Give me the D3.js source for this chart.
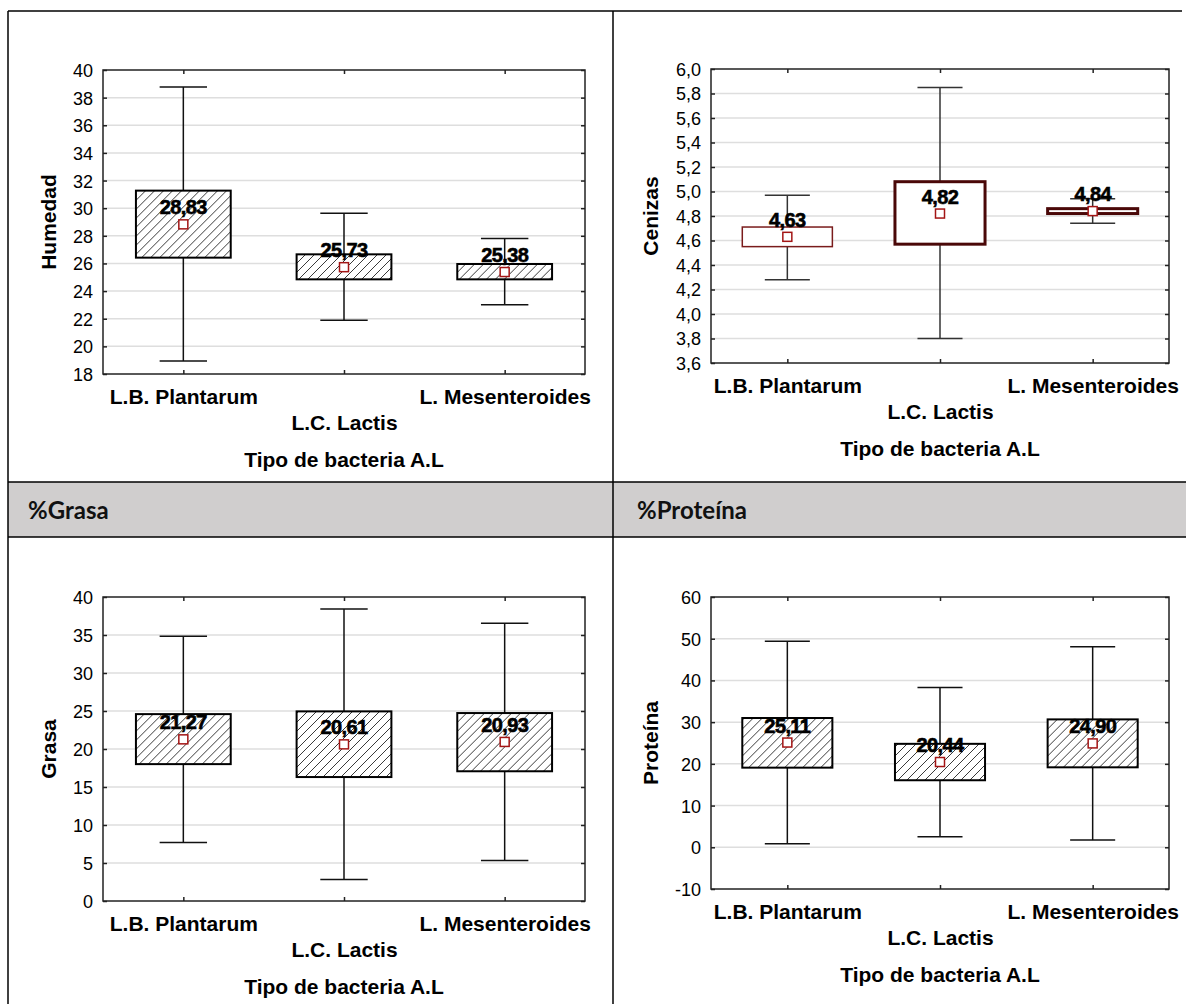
<!DOCTYPE html>
<html>
<head>
<meta charset="utf-8">
<script src="https://cdn.jsdelivr.net/npm/d3@7"></script>
<style>
  html, body { margin: 0; padding: 0; background: #fff; }
  svg { display: block; }
</style>
</head>
<body>
<svg id="chart" width="1186" height="1004"></svg>
<script>
// Bacteria types on the x axis
const categories = ["L.B. Plantarum", "L.C. Lactis", "L. Mesenteroides"];

// Humedad: mean, box (low/high) and whisker (low/high) per bacteria
const humedadMean = [28.83, 25.73, 25.38];
const humedadBoxLow = [26.42, 24.85, 24.85];
const humedadBoxHigh = [31.27, 26.66, 25.96];
const humedadWhiskerLow = [18.94, 21.89, 23.02];
const humedadWhiskerHigh = [38.77, 29.63, 27.80];
const humedadTicks = [18, 20, 22, 24, 26, 28, 30, 32, 34, 36, 38, 40];

// Cenizas
const cenizasMean = [4.63, 4.82, 4.84];
const cenizasBoxLow = [4.55, 4.57, 4.82];
const cenizasBoxHigh = [4.71, 5.08, 4.86];
const cenizasWhiskerLow = [4.28, 3.80, 4.74];
const cenizasWhiskerHigh = [4.97, 5.85, 4.94];
const cenizasTicks = [3.6, 3.8, 4.0, 4.2, 4.4, 4.6, 4.8, 5.0, 5.2, 5.4, 5.6, 5.8, 6.0];

// Grasa
const grasaMean = [21.27, 20.61, 20.93];
const grasaBoxLow = [18.01, 16.31, 17.07];
const grasaBoxHigh = [24.59, 24.95, 24.73];
const grasaWhiskerLow = [7.71, 2.83, 5.34];
const grasaWhiskerHigh = [34.85, 38.43, 36.55];
const grasaTicks = [0, 5, 10, 15, 20, 25, 30, 35, 40];

// Proteína
const proteinaMean = [25.11, 20.44, 24.90];
const proteinaBoxLow = [19.09, 16.07, 19.17];
const proteinaBoxHigh = [30.99, 24.80, 30.66];
const proteinaWhiskerLow = [0.83, 2.54, 1.73];
const proteinaWhiskerHigh = [49.40, 38.32, 48.10];
const proteinaTicks = [-10, 0, 10, 20, 30, 40, 50, 60];

// Section headers of the lower row
const sectionHeaders = ["%Grasa", "%Proteína"];
const xAxisTitle = "Tipo de bacteria A.L";

// Spanish number formatting (decimal comma, plain hyphen minus)
const es = d3.formatLocale({ decimal: ",", thousands: ".", grouping: [3], currency: ["", " €"], minus: "-" });

const FONT = "'Liberation Sans', Arial, Helvetica, sans-serif";
const svg = d3.select("#chart");

// Diagonal hatch used by the filled boxes
const defs = svg.append("defs");
defs.append("pattern")
  .attr("id", "hatch")
  .attr("patternUnits", "userSpaceOnUse")
  .attr("width", 9).attr("height", 9)
  .append("path")
  .attr("d", "M-1,1 l2,-2 M0,9 l9,-9 M8,10 l2,-2")
  .attr("stroke", "#3a3a3a")
  .attr("stroke-width", 1);

// ---- Table frame and the grey header row ----
const table = svg.append("g");
table.append("rect")
  .attr("x", 8).attr("y", 482).attr("width", 1178).attr("height", 55)
  .attr("fill", "#d0cece");
[[8, 11, 1182, 11], [8, 482, 1186, 482], [8, 537, 1186, 537],
 [8, 11, 8, 1004], [613, 11, 613, 1004]].forEach(([xa, ya, xb, yb]) => {
  table.append("line")
    .attr("x1", xa).attr("y1", ya).attr("x2", xb).attr("y2", yb)
    .attr("stroke", "#000").attr("stroke-width", 1.5);
});
table.selectAll("text.header")
  .data(sectionHeaders)
  .join("text")
  .attr("class", "header")
  .attr("x", (d, i) => i === 0 ? 28 : 637)
  .attr("y", 519)
  .attr("font-family", "Lato, 'Open Sans', sans-serif")
  .attr("font-weight", 700)
  .attr("font-size", 24)
  .attr("fill", "#111")
  .text(d => d);

function drawPanel(p) {
  const g = svg.append("g");
  const y = d3.scaleLinear().domain(p.domain).range([p.y1, p.y0]);
  const x = d3.scalePoint().domain(categories).range([p.x0, p.x1]).padding(0.5);
  const boxW = x.step() * 0.59;
  const capW = boxW / 2;
  const fmtTick = es.format(p.tickFormat);
  const fmtMean = es.format(".2f");

  // horizontal grid
  g.append("g")
    .selectAll("line")
    .data(p.ticks.filter(t => t !== p.domain[0] && t !== p.domain[1]))
    .join("line")
    .attr("x1", p.x0).attr("x2", p.x1)
    .attr("y1", d => y(d)).attr("y2", d => y(d))
    .attr("stroke", "#dedede").attr("stroke-width", 1.5);

  const rows = categories.map((c, i) => ({
    c, mean: p.mean[i], bl: p.boxLow[i], bh: p.boxHigh[i], wl: p.whiskerLow[i], wh: p.whiskerHigh[i], i
  }));

  const items = g.append("g").selectAll("g").data(rows).join("g")
    .attr("transform", d => `translate(${x(d.c)},0)`);

  // whisker stem and caps
  items.append("line")
    .attr("x1", 0).attr("x2", 0)
    .attr("y1", d => y(d.wh)).attr("y2", d => y(d.wl))
    .attr("stroke", p.whiskerColor).attr("stroke-width", 1.5);
  items.append("line")
    .attr("x1", -capW / 2).attr("x2", capW / 2)
    .attr("y1", d => y(d.wh)).attr("y2", d => y(d.wh))
    .attr("stroke", p.whiskerColor).attr("stroke-width", 1.5);
  items.append("line")
    .attr("x1", -capW / 2).attr("x2", capW / 2)
    .attr("y1", d => y(d.wl)).attr("y2", d => y(d.wl))
    .attr("stroke", p.whiskerColor).attr("stroke-width", 1.5);

  // box
  items.append("rect")
    .attr("x", -boxW / 2).attr("width", boxW)
    .attr("y", d => y(d.bh)).attr("height", d => y(d.bl) - y(d.bh))
    .attr("fill", "#fff");
  items.append("rect")
    .attr("x", -boxW / 2).attr("width", boxW)
    .attr("y", d => y(d.bh)).attr("height", d => y(d.bl) - y(d.bh))
    .attr("fill", p.hatched ? "url(#hatch)" : "#fff")
    .attr("stroke", d => p.boxStroke[d.i])
    .attr("stroke-width", d => p.boxStrokeWidth[d.i]);

  // mean marker
  items.append("rect")
    .attr("x", -4.5).attr("width", 9)
    .attr("y", d => y(d.mean) - 4.5).attr("height", 9)
    .attr("fill", "#fff")
    .attr("stroke", "#a31515").attr("stroke-width", 1.5);

  // mean value label
  items.append("text")
    .attr("x", 0)
    .attr("y", d => y(d.mean) - 10)
    .attr("text-anchor", "middle")
    .attr("font-family", FONT)
    .attr("font-weight", 700)
    .attr("font-size", 20)
    .attr("letter-spacing", -0.6)
    .attr("fill", "#000")
    .attr("stroke", "#000")
    .attr("stroke-width", 0.6)
    .text(d => fmtMean(d.mean));

  // left axis with inward ticks
  const yAxis = g.append("g")
    .attr("transform", `translate(${p.x0},0)`)
    .call(d3.axisLeft(y).tickValues(p.ticks).tickFormat(fmtTick).tickSizeInner(-4).tickSizeOuter(0).tickPadding(10));
  yAxis.select(".domain").remove();
  yAxis.selectAll("line").attr("stroke", "#222").attr("stroke-width", 1.5);
  yAxis.selectAll("text")
    .attr("font-family", FONT).attr("font-size", 18).attr("fill", "#000")
    .attr("dy", "0.36em");

  // right axis (ticks only)
  const yAxisR = g.append("g")
    .attr("transform", `translate(${p.x1},0)`)
    .call(d3.axisRight(y).tickValues(p.ticks).tickSizeInner(-4).tickSizeOuter(0));
  yAxisR.select(".domain").remove();
  yAxisR.selectAll("text").remove();
  yAxisR.selectAll("line").attr("stroke", "#222").attr("stroke-width", 1.5);

  // top axis (ticks only)
  const xTop = g.append("g")
    .attr("transform", `translate(0,${p.y0})`)
    .call(d3.axisTop(x).tickSizeInner(-4).tickSizeOuter(0));
  xTop.select(".domain").remove();
  xTop.selectAll("text").remove();
  xTop.selectAll("line").attr("stroke", "#222").attr("stroke-width", 1.5);

  // bottom axis with staggered category labels
  const xAxis = g.append("g")
    .attr("transform", `translate(0,${p.y1})`)
    .call(d3.axisBottom(x).tickSizeInner(-4).tickSizeOuter(0).tickPadding(15));
  xAxis.select(".domain").remove();
  xAxis.selectAll("line").attr("stroke", "#222").attr("stroke-width", 1.5);
  xAxis.selectAll("text")
    .attr("font-family", FONT).attr("font-weight", 700).attr("font-size", 21).attr("fill", "#000")
    .attr("y", (d, i) => i === 1 ? 41 : 15);

  // plot frame
  g.append("rect")
    .attr("x", p.x0).attr("y", p.y0)
    .attr("width", p.x1 - p.x0).attr("height", p.y1 - p.y0)
    .attr("fill", "none").attr("stroke", "#222").attr("stroke-width", 1.5);

  // x axis title
  g.append("text")
    .attr("x", (p.x0 + p.x1) / 2)
    .attr("y", p.y1 + 93)
    .attr("text-anchor", "middle")
    .attr("font-family", FONT).attr("font-weight", 700).attr("font-size", 21)
    .attr("fill", "#000")
    .text(xAxisTitle);

  // y axis title
  g.append("text")
    .attr("transform", `translate(${p.titleX},${(p.y0 + p.y1) / 2}) rotate(-90)`)
    .attr("text-anchor", "middle")
    .attr("font-family", FONT).attr("font-weight", 700).attr("font-size", 21)
    .attr("fill", "#000")
    .text(p.title);
}

const darkBox = ["#000", "#000", "#000"];

drawPanel({
  title: "Humedad", titleX: 56,
  x0: 103, x1: 585, y0: 70, y1: 374,
  domain: [18, 40], ticks: humedadTicks, tickFormat: "d",
  mean: humedadMean, boxLow: humedadBoxLow, boxHigh: humedadBoxHigh,
  whiskerLow: humedadWhiskerLow, whiskerHigh: humedadWhiskerHigh,
  hatched: true, boxStroke: darkBox, boxStrokeWidth: [2, 2, 2], whiskerColor: "#111"
});

drawPanel({
  title: "Cenizas", titleX: 658,
  x0: 711, x1: 1169, y0: 69, y1: 363,
  domain: [3.6, 6.0], ticks: cenizasTicks, tickFormat: ".1f",
  mean: cenizasMean, boxLow: cenizasBoxLow, boxHigh: cenizasBoxHigh,
  whiskerLow: cenizasWhiskerLow, whiskerHigh: cenizasWhiskerHigh,
  hatched: false, boxStroke: ["#7a1c1c", "#4a0808", "#4a0808"], boxStrokeWidth: [1.5, 3, 3], whiskerColor: "#333"
});

drawPanel({
  title: "Grasa", titleX: 56,
  x0: 103, x1: 585, y0: 597, y1: 901,
  domain: [0, 40], ticks: grasaTicks, tickFormat: "d",
  mean: grasaMean, boxLow: grasaBoxLow, boxHigh: grasaBoxHigh,
  whiskerLow: grasaWhiskerLow, whiskerHigh: grasaWhiskerHigh,
  hatched: true, boxStroke: darkBox, boxStrokeWidth: [2, 2, 2], whiskerColor: "#111"
});

drawPanel({
  title: "Proteína", titleX: 658,
  x0: 711, x1: 1169, y0: 597, y1: 889,
  domain: [-10, 60], ticks: proteinaTicks, tickFormat: "d",
  mean: proteinaMean, boxLow: proteinaBoxLow, boxHigh: proteinaBoxHigh,
  whiskerLow: proteinaWhiskerLow, whiskerHigh: proteinaWhiskerHigh,
  hatched: true, boxStroke: darkBox, boxStrokeWidth: [2, 2, 2], whiskerColor: "#111"
});
</script>
</body>
</html>
